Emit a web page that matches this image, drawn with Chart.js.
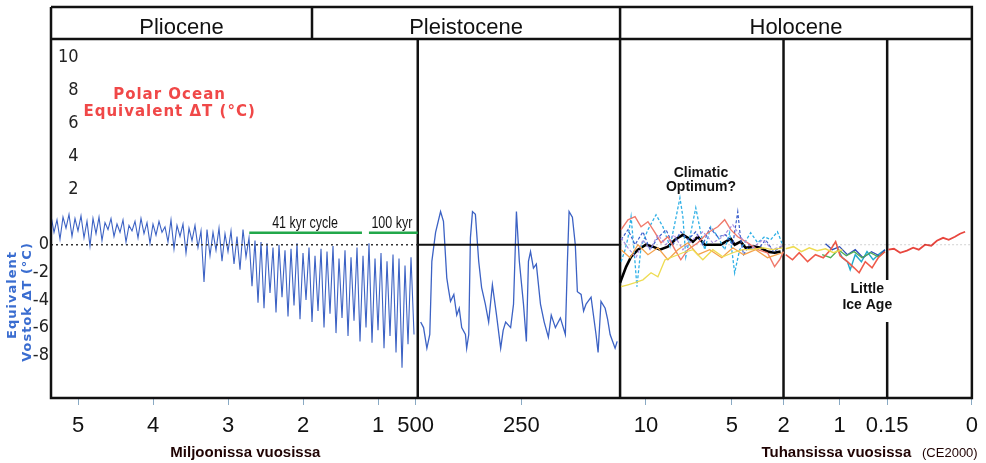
<!DOCTYPE html>
<html>
<head>
<meta charset="utf-8">
<script src="https://cdn.jsdelivr.net/npm/chart.js"></script>
<style>
  html, body { margin: 0; padding: 0; background: #fff; }
  #wrap { width: 986px; height: 463px; }
</style>
</head>
<body>
<div id="wrap"><canvas id="climate"></canvas></div>
<script>
// all ages are thousands of years before 2000 (kyr), temperatures in degC

// Pliocene - Pleistocene stack, one reading every 40 kyr starting at 5360 kyr
var stackStart = 5360, stackStep = 40;
var stackTemp = [
  2.1, 0.9, 1.8, 0.4, 2.0, 1.2, 2.2, 0.6, 1.9, 1.0, 2.1,
  0.5, 1.7, -0.1, 1.9, 0.8, 2.0, 0.3, 1.6, 1.1, 1.9,
  0.6, 1.5, 0.9, 1.8, 0.2, 1.4, 1.0, 1.7, 0.5, 1.9,
  0.8, 1.6, 0.1, 1.5, 0.7, 1.7, 0.9, 1.3, 0.2, 1.8,
  -0.3, 1.4, 0.6, 1.5, -0.6, 1.2, 0.3, 1.4, -0.2, 1.0,
  -2.7,
  1.1, -0.8, 0.9, -0.4, 1.2, -1.2, 0.8, -0.5, 1.0,
  -1.4, 0.6, -1.8, 1.1, -0.9, 0.5, -3.0, 0.3, -4.2, 0.2,
  -4.6, 0.1, -3.5, -0.2, -4.9, 0.0, -3.8, -0.4, -5.2, -0.3,
  -4.4, 0.1, -5.4, -0.6, -4.0, -0.2, -5.6, -0.8, -4.8, -0.3,
  -6.0, -0.5, -5.0, -0.1, -6.4, -1.0, -5.3, -0.4, -6.6, -0.9,
  -5.5, -0.2, -7.0, -0.8, -6.0, 0.1, -7.1, -1.0, -6.2, -0.6,
  -7.5, -1.2, -6.6, -0.7, -7.8, -1.0, -8.9, -1.5, -7.2, -0.9, -6.5
];

// Vostok ice core [age, temp]
var vostok = [
  [493,-5.6],[486,-6.0],[478,-7.5],[471,-6.5],[466,-1.2],[457,0.9],[445,2.4],[438,1.7],
  [430,-2.4],[426,-3.2],[421,-4.1],[413,-3.6],[406,-5.1],[400,-4.6],[394,-6.0],[385,-6.5],
  [382,-7.5],[377,-6.5],[373,0.5],[368,2.4],[361,2.2],[353,-1.2],[346,-3.1],[337,-4.3],
  [329,-5.6],[320,-2.9],[310,-5.1],[300,-7.5],[294,-6.2],[288,-5.6],[276,-6.0],[269,-4.3],
  [262,2.4],[255,-1.2],[245,-4.3],[238,-7.0],[233,-1.2],[228,-0.5],[221,-1.7],[214,-1.4],
  [204,-4.3],[195,-5.6],[185,-6.7],[178,-5.1],[168,-6.0],[156,-5.3],[144,-6.5],[139,-1.2],
  [135,2.4],[127,2.0],[120,0.0],[115,-3.4],[106,-3.6],[100,-4.8],[94,-4.3],[82,-3.8],
  [70,-6.5],[65,-7.8],[58,-4.1],[48,-4.6],[42,-5.4],[36,-6.5],[24,-7.5],[19,-7.0]
];

// Holocene proxies [age, temp]
var holoMean = [
  [11.5,-2.75],[11.15,-1.6],[10.86,-0.87],[10.46,-0.36],[9.99,0],[9.59,-0.14],[9.18,-0.36],
  [8.72,-0.14],[8.31,0.36],[7.85,0.72],[7.56,0.5],[7.27,0.22],[6.98,0.58],[6.58,0],[6.11,0],
  [5.65,0],[5.36,0.22],[5.07,0.43],[4.84,0],[4.49,0.22],[4.2,-0.22],[3.68,-0.14],[3.33,-0.22],
  [2.93,-0.5],[2.52,-0.58],[2.17,-0.5]
];
var cyanEarly = [
  [11.44,-1.23],[11.21,-0.36],[11.04,0.5],[10.86,2.03],[10.69,-0.36],[10.52,-3.04],[10.28,-0.14],
  [9.88,1.09],[9.41,2.17],[9.01,1.3],[8.6,-0.14],[8.31,1.6],[8.02,3.4],[7.85,2.03],[7.68,-0.87],
  [7.39,0.87],[7.1,2.68],[6.81,0.87],[6.58,-0.36],[6.23,1.3],[5.82,0.58],[5.42,-0.36],[5.13,0.87],
  [4.84,-2.03],[4.55,-0.36],[4.26,0.14],[3.91,0.87],[3.5,0.14],[3.1,0.58],[2.75,0.36],[2.35,0.94],[2.06,0]
];
var cyanLate = [
  [1.04,-0.22],[0.95,-0.94],[0.86,-1.23],[0.81,-1.81],[0.72,-0.72],[0.61,-1.23],[0.51,-0.5],
  [0.4,-1.09],[0.29,-0.65],[0.19,-0.36]
];
var blueEarly = [
  [11.44,0.36],[11.04,1.09],[10.63,0],[10.17,0.94],[9.76,-0.36],[9.3,0.5],[8.83,1.09],[8.43,0],
  [7.97,0.94],[7.56,0.36],[7.1,0.94],[6.69,0],[6.29,1.23],[5.82,0.58],[5.36,0.72],[4.95,0],
  [4.66,2.39],[4.49,0.36],[4.32,-0.72],[3.97,0],[3.5,-0.36],[3.04,0.36],[2.58,-0.5],[2.12,-0.14]
];
var blueLate = [
  [1.25,0.07],[1.13,-0.36],[1.0,-0.14],[0.86,-0.72],[0.72,-0.36],[0.58,-0.94],[0.43,-0.5],
  [0.29,-0.8],[0.19,-0.36]
];
var salmonEarly = [
  [11.44,1.09],[11.04,1.81],[10.63,2.03],[10.28,1.3],[9.88,1.67],[9.47,0.87],[9.12,0.14],
  [8.72,0.58],[8.31,-0.36],[7.97,-1.09],[7.56,-0.36],[6.98,0.14],[6.4,0.87],[5.82,1.3],
  [5.42,1.81],[5.07,1.09],[4.66,0.58],[4.08,0.14],[3.5,-0.36],[2.93,-0.58],[2.52,-1.59],
  [2.23,-1.09],[2.0,-0.5]
];
var redLate = [
  [1.96,-0.72],[1.84,-1.09],[1.72,-0.58],[1.57,-1.23],[1.43,-0.72],[1.29,-0.94],[1.16,-0.36],
  [1.07,0.22],[0.99,-0.8],[0.86,-1.23],[0.74,-1.67],[0.65,-2.03],[0.54,-1.23],[0.42,-1.67],
  [0.31,-0.94],[0.19,-0.5]
];
var redRecent = [
  [0.148,-0.36],[0.138,-0.29],[0.127,-0.58],[0.115,-0.43],[0.104,-0.22],[0.094,-0.36],
  [0.083,0],[0.072,-0.07],[0.062,0.29],[0.051,0.5],[0.041,0.36],[0.030,0.58],[0.021,0.8],[0.012,0.94]
];
var orangeEarly = [
  [11.44,-0.36],[10.92,-0.94],[10.46,0],[9.88,-0.72],[9.3,-0.22],[8.72,-1.09],[8.14,-0.36],
  [7.56,0.14],[6.98,-0.72],[6.29,-0.36],[5.59,-0.94],[4.95,-0.22],[4.32,-0.72],[3.62,-0.36],
  [2.93,-0.94],[2.06,-0.58]
];
var yellowEarly = [
  [11.44,-3.04],[11.04,-2.9],[10.63,-2.75],[10.17,-2.54],[9.7,-2.03],[9.3,-2.32],[8.89,-1.09],
  [8.43,-0.87],[7.85,-0.58],[7.27,-0.36],[6.69,-1.09],[6.11,-0.36],[5.53,-0.87],[4.95,-0.58],
  [4.37,-0.36],[3.79,-0.36],[3.21,-0.22],[2.64,-0.36],[2.06,-0.22]
];
var yellowLate = [
  [1.96,-0.29],[1.82,-0.14],[1.68,-0.5],[1.54,-0.22],[1.4,-0.43],[1.25,-0.29],[1.11,-0.58],[0.95,-0.36]
];
var lilacEarly = [
  [11.44,0.5],[11.04,-0.22],[10.57,-0.94],[10.17,0.36],[9.76,-0.36],[9.3,0.72],[8.83,0],
  [8.37,0.72],[7.85,-0.36],[7.27,0.36],[6.69,0.94],[6.11,0.14],[5.53,0.58],[4.95,1.45],
  [4.37,0.36],[3.79,-0.22],[3.21,0.36],[2.64,-0.36],[2.06,-0.07]
];
var greenLate = [
  [1.31,-0.72],[1.16,-0.94],[1.02,-0.36],[0.88,-0.8],[0.74,-0.5],[0.6,-0.94],[0.45,-0.58],
  [0.31,-0.87],[0.19,-0.5]
];

// axis ticks
var tickAges = [5000, 4000, 3000, 2000, 1000, 500, 250, 10, 5, 2, 1, 0.15, 0];
var tickLabels = ['5', '4', '3', '2', '1', '500', '250', '10', '5', '2', '1', '0.15', '0'];
var vostokTicks = [0, -2, -4, -6, -8];
var polarTicks = [2, 4, 6, 8, 10];

var epochNames = ['Pliocene', 'Pleistocene', 'Holocene'];
var epochEdges = [5360, 1880, 11.5, 0];

// broken time axis: each piece gets its own linear stretch
var SEG = [
  { from: 5360, to: 470, share: 368 },
  { from: 500, to: 12, share: 203 },
  { from: 11.5, to: 2, share: 164 },
  { from: 2, to: 0.15, share: 104 },
  { from: 0.15, to: 0, share: 85 }
];
var SPAN = SEG.reduce(function (t, s) { return t + s.share; }, 0);

function ageToX(age, seg) {
  if (seg == null) {
    seg = SEG.findIndex(function (s) { return age <= s.from && age >= s.to; });
  }
  var off = 0;
  for (var k = 0; k < seg; k++) off += SEG[k].share;
  var s = SEG[seg];
  return off + (s.from - age) / (s.from - s.to) * s.share;
}

function line(pairs, seg, color, width, dash) {
  return {
    data: pairs.map(function (p) { return { x: ageToX(p[0], seg), y: p[1] }; }),
    borderColor: color,
    borderWidth: width,
    borderDash: dash || [],
    pointRadius: 0,
    tension: 0,
    fill: false,
    yAxisID: 'y'
  };
}

var stackPairs = stackTemp.map(function (v, i) { return [stackStart - i * stackStep, v]; });

var BLUE = '#3c62c4';
var NARROW = "'DejaVu Sans Condensed', 'Liberation Sans Narrow', 'Liberation Sans', sans-serif";
var SANS = "'Liberation Sans', Arial, sans-serif";

// squeezed text, the source uses a narrow face
function narrowText(ctx, txt, x, y, squeeze) {
  ctx.save();
  ctx.translate(x, y);
  ctx.scale(squeeze, 1);
  ctx.fillText(txt, 0, 0);
  ctx.restore();
}

var decor = {
  id: 'decor',
  beforeDatasetsDraw: function (chart) {
    var ctx = chart.ctx, a = chart.chartArea, sx = chart.scales.x, sy = chart.scales.y;
    ctx.save();
    ctx.strokeStyle = '#111';
    ctx.lineWidth = 2.5;
    var off = 0;
    for (var k = 0; k < SEG.length - 1; k++) {
      off += SEG[k].share;
      var px = sx.getPixelForValue(off);
      ctx.beginPath();
      if (k === 3) {
        var g1 = sy.getPixelForValue(-2.55), g2 = sy.getPixelForValue(-5.6);
        ctx.moveTo(px, a.top); ctx.lineTo(px, g1);
        ctx.moveTo(px, g2); ctx.lineTo(px, a.bottom);
      } else {
        ctx.moveTo(px, a.top); ctx.lineTo(px, a.bottom);
      }
      ctx.stroke();
    }
    ctx.restore();
  },
  afterDatasetsDraw: function (chart) {
    var ctx = chart.ctx, a = chart.chartArea, sx = chart.scales.x, sy = chart.scales.y;
    function X(age, seg) { return sx.getPixelForValue(ageToX(age, seg)); }
    function Y(v) { return sy.getPixelForValue(v); }
    var y0 = Y(0);
    ctx.save();

    // zero lines
    ctx.strokeStyle = '#333';
    ctx.lineWidth = 1.5;
    ctx.setLineDash([2, 3]);
    ctx.beginPath(); ctx.moveTo(X(5360), y0); ctx.lineTo(X(470), y0); ctx.stroke();
    ctx.setLineDash([]);
    ctx.strokeStyle = '#111';
    ctx.lineWidth = 2;
    ctx.beginPath(); ctx.moveTo(X(500, 1), y0); ctx.lineTo(X(12, 1), y0); ctx.stroke();
    ctx.strokeStyle = 'rgba(0,0,0,0.18)';
    ctx.lineWidth = 1;
    ctx.setLineDash([2, 2]);
    ctx.beginPath(); ctx.moveTo(X(11.5), y0); ctx.lineTo(X(0), y0); ctx.stroke();
    ctx.setLineDash([]);

    // cycle bars
    ctx.strokeStyle = '#22a84a';
    ctx.lineWidth = 2.5;
    ctx.beginPath();
    ctx.moveTo(X(2716), Y(0.87)); ctx.lineTo(X(1214), Y(0.87));
    ctx.moveTo(X(1121), Y(0.87)); ctx.lineTo(X(470), Y(0.87));
    ctx.stroke();
    ctx.fillStyle = '#111';
    ctx.font = '16px ' + SANS;
    ctx.textAlign = 'center';
    ctx.textBaseline = 'middle';
    narrowText(ctx, '41 kyr cycle', X(1972), Y(1.52), 0.78);
    narrowText(ctx, '100 kyr', X(815), Y(1.52), 0.78);

    // annotations
    ctx.font = 'bold 14px ' + SANS;
    ctx.fillText('Climatic', X(6.8), Y(5.2));
    ctx.fillText('Optimum?', X(6.8), Y(4.2));
    ctx.fillText('Little', X(0.505), Y(-3.2));
    ctx.fillText('Ice Age', X(0.505), Y(-4.35));

    ctx.fillStyle = '#f04848';
    ctx.font = 'bold 15px "DejaVu Sans", Verdana, sans-serif';
    ctx.letterSpacing = '1px';
    ctx.fillText('Polar Ocean', X(3779), Y(10.87));
    ctx.fillText('Equivalent \u0394T (\u00b0C)', X(3779), Y(9.57));

    ctx.fillStyle = '#3a6dd0';
    ctx.font = 'bold 13px "DejaVu Sans", Verdana, sans-serif';
    ctx.save();
    ctx.translate(12.5, 295); ctx.rotate(-Math.PI / 2);
    ctx.fillText('Equivalent', 0, 0);
    ctx.restore();
    ctx.save();
    ctx.translate(27.5, 302); ctx.rotate(-Math.PI / 2);
    ctx.fillText('Vostok \u0394T (\u00b0C)', 0, 0);
    ctx.restore();
    ctx.letterSpacing = '0px';

    // axis titles
    ctx.fillStyle = '#200404';
    ctx.font = 'bold 15px ' + SANS;
    ctx.fillText('Miljoonissa vuosissa', X(2769), a.bottom + 55);
    ctx.fillText('Tuhansissa vuosissa', X(1.057), a.bottom + 55);
    ctx.font = '13px ' + SANS;
    ctx.fillText('(CE2000)', X(0.039), a.bottom + 55);

    // frame and epoch header
    var top = a.top - 32;
    ctx.strokeStyle = '#111';
    ctx.lineWidth = 2.5;
    ctx.beginPath();
    ctx.moveTo(a.left, top); ctx.lineTo(a.right, top);
    ctx.lineTo(a.right, a.bottom); ctx.lineTo(a.left, a.bottom);
    ctx.lineTo(a.left, top);
    ctx.moveTo(a.left, a.top); ctx.lineTo(a.right, a.top);
    for (var e = 1; e < epochEdges.length - 1; e++) {
      ctx.moveTo(X(epochEdges[e]), top); ctx.lineTo(X(epochEdges[e]), a.top);
    }
    ctx.stroke();
    ctx.fillStyle = '#111';
    ctx.font = '22px ' + SANS;
    ctx.textBaseline = 'alphabetic';
    for (var n = 0; n < epochNames.length; n++) {
      var cx = (X(epochEdges[n]) + X(epochEdges[n + 1])) / 2;
      ctx.fillText(epochNames[n], cx, a.top - 5);
    }
    ctx.restore();
  }
};

var datasets = [
  line(stackPairs, 0, BLUE, 1.1),
  line(vostok, 1, BLUE, 1.3),
  line(yellowEarly, null, '#eedc52', 1.3),
  line(orangeEarly, null, '#f4a24c', 1.3),
  line(lilacEarly, null, '#a88ee0', 1.2, [3, 2]),
  line(salmonEarly, null, '#f07a6c', 1.4),
  line(blueEarly, null, '#3b5fcc', 1.2, [3, 2]),
  line(cyanEarly, null, '#2fb0e6', 1.3, [3, 2]),
  line(yellowLate, null, '#eedc52', 1.5),
  line(redLate, null, '#ef5a4a', 1.6),
  line(greenLate, null, '#4fae55', 1.3),
  line(blueLate, null, '#2d4fb8', 1.3),
  line(cyanLate, null, '#22aacc', 1.4),
  line(redRecent, null, '#e8463e', 1.8),
  line(holoMean, null, '#000', 2.6)
];

new Chart(document.getElementById('climate').getContext('2d'), {
  type: 'line',
  data: { datasets: datasets },
  options: {
    responsive: true,
    maintainAspectRatio: false,
    animation: false,
    parsing: false,
    layout: { padding: { top: 39, right: 11, left: 0, bottom: 0 } },
    plugins: { legend: { display: false }, tooltip: { enabled: false } },
    scales: {
      x: {
        type: 'linear',
        min: 0,
        max: SPAN,
        afterFit: function (s) { s.height = 65; },
        afterBuildTicks: function (s) {
          s.ticks = tickAges.map(function (a) { return { value: ageToX(a) }; });
        },
        ticks: {
          autoSkip: false,
          maxRotation: 0,
          padding: 8,
          color: '#111',
          font: { family: SANS, size: 22 },
          callback: function (v, i) { return tickLabels[i]; }
        },
        grid: { display: true, drawOnChartArea: false, drawTicks: true, tickLength: 7, color: '#8aaac4' },
        border: { display: false }
      },
      y: {
        position: 'left',
        weight: 1,
        min: -11.1,
        max: 14.9,
        afterFit: function (s) { s.width = 51; },
        afterBuildTicks: function (s) {
          s.ticks = vostokTicks.map(function (v) { return { value: v }; });
        },
        ticks: { padding: 2, color: '#222', font: { family: NARROW, size: 18 } },
        grid: { display: false, drawTicks: false },
        border: { display: false }
      },
      yp: {
        position: 'left',
        weight: 0,
        min: -10.54,
        max: 11.08,
        afterFit: function (s) { s.width = 0; },
        afterBuildTicks: function (s) {
          s.ticks = polarTicks.map(function (v) { return { value: v }; });
        },
        ticks: { mirror: true, crossAlign: 'far', padding: 7, color: '#222', font: { family: NARROW, size: 18 } },
        grid: { display: false, drawTicks: false },
        border: { display: false }
      }
    }
  },
  plugins: [decor]
});
</script>
</body>
</html>
